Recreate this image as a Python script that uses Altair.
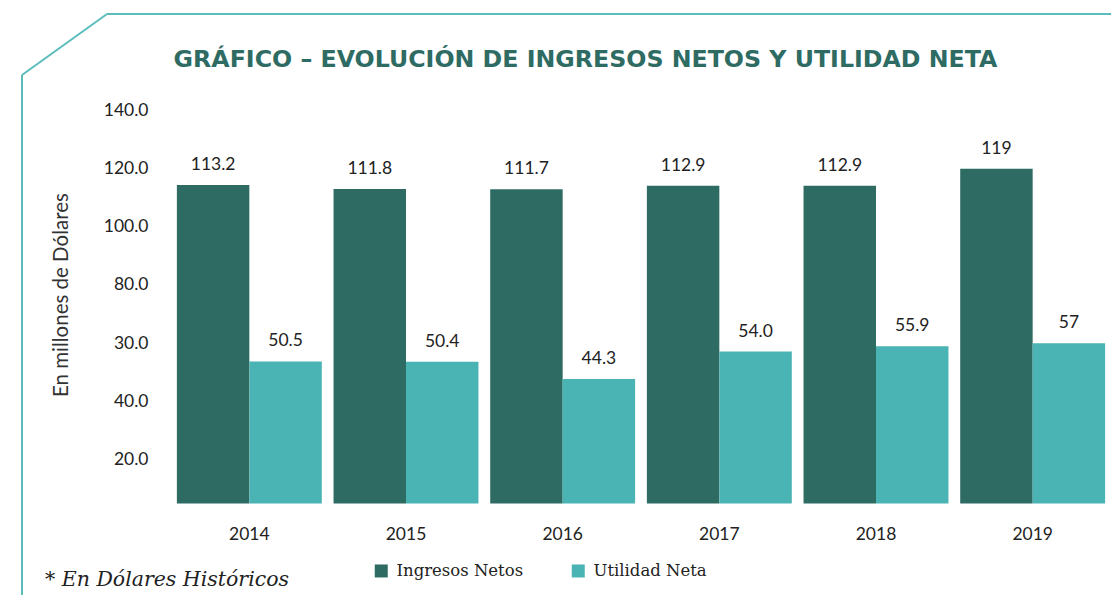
import altair as alt
import pandas as pd

years = ["2014", "2015", "2016", "2017", "2018", "2019"]
ingresos = [113.2, 111.8, 111.7, 112.9, 112.9, 119.0]
ingresos_lbl = ["113.2", "111.8", "111.7", "112.9", "112.9", "119"]
utilidad = [50.5, 50.4, 44.3, 54.0, 55.9, 57.0]
utilidad_lbl = ["50.5", "50.4", "44.3", "54.0", "55.9", "57"]
series = ["Ingresos Netos", "Utilidad Neta"]
colors = ["#2e6b63", "#4ab3b3"]

# printed axis ticks (as they appear on the original graphic)
tick_values = [15.5, 36.2, 57.0, 77.7, 98.6, 118.9, 139.6]
tick_labels = ["20.0", "40.0", "30.0", "80.0", "100.0", "120.0", "140.0"]

rows = []
for i, y in enumerate(years):
    rows.append({"year": y, "serie": series[0], "valor": ingresos[i], "lbl": ingresos_lbl[i]})
    rows.append({"year": y, "serie": series[1], "valor": utilidad[i], "lbl": utilidad_lbl[i]})
df = pd.DataFrame(rows)

label_expr = ""
for v, l in zip(tick_values, tick_labels):
    label_expr += f"round(datum.value*10)=={round(v*10)} ? '{l}' : "
label_expr += "''"

W, H = 940, 394
FONT = "Lato"

x_enc = alt.X("year:N", sort=years, title=None,
              scale=alt.Scale(paddingInner=0.075, paddingOuter=0.0375),
              axis=alt.Axis(labelAngle=0, ticks=False, domain=False, labelPadding=22,
                            labelFont=FONT, labelFontSize=17.5, labelColor="#222222"))
xo_enc = alt.XOffset("serie:N", sort=series, scale=alt.Scale(paddingInner=0, paddingOuter=0))
y_enc = alt.Y("valor:Q", title="En millones de Dólares",
              scale=alt.Scale(domain=[0, 140], nice=False, zero=True),
              axis=alt.Axis(values=tick_values, labelExpr=label_expr, grid=False, ticks=False,
                            domain=False, labelPadding=23, labelFont=FONT, labelFontSize=17.5,
                            labelColor="#222222", titleFont=FONT, titleFontSize=20.5,
                            titleFontWeight="normal", titleColor="#333333", titleAngle=-90,
                            titleX=-100, titleY=185, titleAlign="center", titleBaseline="bottom"))

base = alt.Chart(df)

bars = base.mark_bar().encode(
    x=x_enc, xOffset=xo_enc, y=y_enc,
    color=alt.Color("serie:N", sort=series, title=None,
                    scale=alt.Scale(domain=series, range=colors),
                    legend=alt.Legend(orient="none", legendX=202, legendY=453, direction="horizontal",
                                      symbolType="square", symbolSize=169, symbolStrokeWidth=0,
                                      labelFont="DejaVu Serif", labelFontSize=16.5, labelColor="#222222",
                                      labelOffset=7, columnPadding=46, padding=0)),
)

labels = base.mark_text(font=FONT, fontSize=17.5, color="#222222", baseline="alphabetic", dy=-15).encode(
    x=x_enc, xOffset=xo_enc, y=y_enc, text="lbl:N"
)

one = pd.DataFrame({"a": [0]})
line_color = "#5bbcbc"
frame_top = alt.Chart(one).mark_rule(color=line_color, strokeWidth=2).encode(
    x=alt.value(-64), x2=alt.value(948), y=alt.value(-95.6))
frame_diag = alt.Chart(one).mark_rule(color=line_color, strokeWidth=2).encode(
    x=alt.value(-64), x2=alt.value(-149), y=alt.value(-95.6), y2=alt.value(-34.6))
frame_left = alt.Chart(one).mark_rule(color=line_color, strokeWidth=2).encode(
    x=alt.value(-149), y=alt.value(-34.6), y2=alt.value(500))

title = alt.Chart(one).mark_text(
    text="GRÁFICO – EVOLUCIÓN DE INGRESOS NETOS Y UTILIDAD NETA",
    font="DejaVu Sans", fontSize=23.7, fontWeight="bold", color="#2e6b63",
    align="center", baseline="alphabetic").encode(x=alt.value(414.5), y=alt.value(-42.3))

foot = alt.Chart(one).mark_text(
    text="* En Dólares Históricos", font="DejaVu Serif", fontStyle="italic", fontSize=20.5,
    color="#222222", align="left", baseline="alphabetic").encode(x=alt.value(-126), y=alt.value(476.4))

chart = alt.layer(bars, labels, frame_top, frame_diag, frame_left, title, foot).properties(
    width=W, height=H,
    autosize=alt.AutoSizeParams(type="none"),
    padding={"left": 163, "top": 101.6, "right": 0, "bottom": 91},
).configure(background="white").configure_view(stroke=None)

chart.save("out.html", embed_options={"renderer": "svg", "actions": False})
